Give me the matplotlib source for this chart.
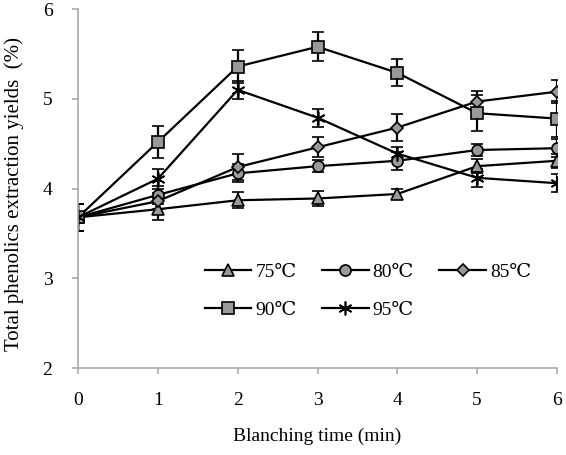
import numpy as np
import matplotlib.pyplot as plt
from matplotlib.lines import Line2D

plt.rcParams['font.family'] = ['Liberation Serif', 'DejaVu Serif']

# Blanching time (min)
time = [0, 1, 2, 3, 4, 5, 6]

# Total phenolics extraction yields (%) per temperature
y75 = [3.68, 3.77, 3.87, 3.89, 3.94, 4.25, 4.31]
y80 = [3.68, 3.93, 4.17, 4.25, 4.31, 4.43, 4.45]
y85 = [3.68, 3.86, 4.24, 4.46, 4.68, 4.97, 5.08]
y90 = [3.68, 4.52, 5.36, 5.58, 5.29, 4.84, 4.78]
y95 = [3.68, 4.11, 5.10, 4.79, 4.39, 4.12, 4.06]

# error bars
e75 = [0.15, 0.12, 0.09, 0.08, 0.06, 0.08, 0.08]
e80 = [0.15, 0.10, 0.10, 0.07, 0.10, 0.07, 0.10]
e85 = [0.15, 0.09, 0.14, 0.11, 0.15, 0.12, 0.13]
e90 = [0.15, 0.18, 0.18, 0.16, 0.15, 0.20, 0.20]
e95 = [0.15, 0.11, 0.10, 0.10, 0.07, 0.10, 0.10]

series = [
    ("75℃", y75, e75, '^', 8),
    ("80℃", y80, e80, 'o', 8),
    ("85℃", y85, e85, 'D', 6.5),
    ("90℃", y90, e90, 's', 9),
    ("95℃", y95, e95, (6, 2, 0), 10),
]

fig, ax = plt.subplots(figsize=(5.66, 4.55), dpi=100)
fig.subplots_adjust(left=0.138, right=0.984, top=0.98, bottom=0.191)

handles = {}
for label, y, e, m, ms in series:
    ax.errorbar(time, y, yerr=e, color='black', linewidth=1.6,
                marker=m, markersize=ms, markerfacecolor='#999999',
                markeredgecolor='black', markeredgewidth=1.2,
                ecolor='black', elinewidth=1.6, capsize=4, capthick=1.6)
    handles[label] = Line2D([], [], color='black', linewidth=1.6, marker=m,
                            markersize=ms, markerfacecolor='#999999',
                            markeredgecolor='black', markeredgewidth=1.2)

ax.set_xlim(0, 6)
ax.set_ylim(2, 6)
ax.set_xticks(time)
ax.set_yticks([2, 3, 4, 5, 6])
for s in ['top', 'right']:
    ax.spines[s].set_visible(False)
for s in ['left', 'bottom']:
    ax.spines[s].set_color('#aaaaaa')
    ax.spines[s].set_linewidth(1.2)
ax.tick_params(axis='both', direction='out', length=4.5, color='#aaaaaa',
               width=1.2, labelsize=14)
ax.tick_params(axis='x', pad=13)
ax.tick_params(axis='y', pad=14)

ax.set_xlabel("Blanching time (min)", fontsize=14)
ax.set_ylabel("Total phenolics extraction yields  (%)", fontsize=15)
ax.xaxis.set_label_coords(0.5, -0.165)
ax.yaxis.set_label_coords(-0.112, 0.485)

# row-wise order: 75, 80, 85 / 90, 95
order = ["75℃", "90℃", "80℃", "95℃", "85℃"]
ax.legend([handles[k] for k in order], order, loc='upper left',
          bbox_to_anchor=(0.228, 0.34), ncol=3, frameon=False,
          fontsize=14, handlelength=2.4, columnspacing=1.3, labelspacing=1.05,
          handletextpad=0.2)

fig.savefig("out.png", dpi=100)
